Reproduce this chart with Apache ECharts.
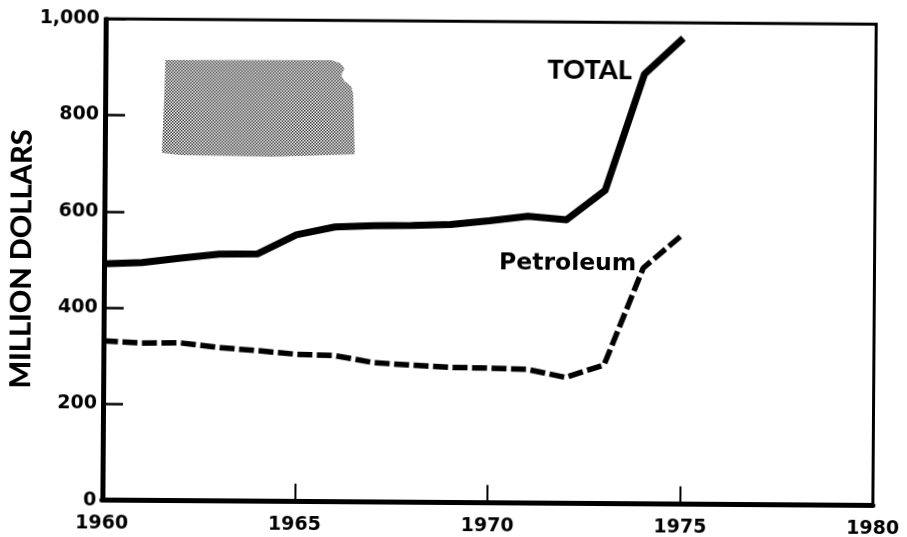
<!DOCTYPE html>
<html><head><meta charset="utf-8">
<style>html,body{margin:0;padding:0;background:#fff;overflow:hidden}
#c{width:907px;height:537px;transform:rotate(0.4deg);transform-origin:453.5px 268.5px}</style>
<script src="https://cdn.jsdelivr.net/npm/echarts@6/dist/echarts.min.js"></script>
</head><body><div id="c"></div>
<script>
const years=[1960,1961,1962,1963,1964,1965,1966,1967,1968,1969,1970,1971,1972,1973,1974,1975];
const totalValues=[491,494,504,513,514,554,571,574,575,578,586,596,589,651,893,968];
const petroleumValues=[331,327,328,319,313,306,304,290,285,281,280,278,262,288,490,559];
const kansasOutline=[[164,62],[330,61],[339,64],[343,69],[340,76],[343,82],[350,87],[352,95],[354,155],[300,157],[270,158],[180,157],[161,155],[163,100]];

const pat=document.createElement('canvas');pat.width=3;pat.height=3;
const p=pat.getContext('2d');p.fillStyle='#fff';p.fillRect(0,0,3,3);p.fillStyle='#333';p.fillRect(0,0,1.5,1.5);p.fillRect(1.5,1.5,1.5,1.5);

const tickFont='DejaVu Sans';
const font='Lato';
const chart=echarts.init(document.getElementById('c'),null,{renderer:'canvas'});
const pairs=a=>years.map((y,i)=>[y,a[i]]);
chart.setOption({
  animation:false,
  grid:{left:103.5,right:32.5,top:21.2,height:481.5,outerBoundsMode:'none',show:true,backgroundColor:'transparent',borderColor:'#000',borderWidth:3},
  xAxis:{type:'value',min:1960,max:1980,interval:5,splitLine:{show:false},
    axisLine:{show:true,onZero:false,lineStyle:{color:'#000',width:5}},
    axisTick:{show:true,inside:true,length:18,lineStyle:{color:'#000',width:2}},
    axisLabel:{color:'#000',fontFamily:tickFont,fontWeight:'bold',fontSize:19,margin:14,formatter:v=>String(v),showMinLabel:true,showMaxLabel:true}},
  yAxis:{type:'value',min:0,max:1000,interval:200,offset:-1.5,splitLine:{show:false},
    name:'MILLION DOLLARS',nameLocation:'middle',nameGap:69,nameRotate:90,nameMoveOverlap:false,
    nameTextStyle:{color:'#000',fontFamily:font,fontWeight:900,fontSize:29},
    axisLine:{show:true,lineStyle:{color:'#000',width:4}},
    axisTick:{show:true,inside:true,length:19,lineStyle:{color:'#000',width:2.5}},
    axisLabel:{color:'#000',fontFamily:tickFont,fontWeight:'bold',fontSize:19,margin:7,
      formatter:v=>v>=1000?'1,000':String(v)}},
  graphic:[
    {type:'polygon',z:1,shape:{points:kansasOutline},style:{fill:{image:pat,repeat:'repeat'}}},
    {type:'text',left:546,top:56,z:5,style:{text:'TOTAL',fill:'#000',font:'900 27px '+font}},
    {type:'text',left:499,top:251,z:5,style:{text:'Petroleum',fill:'#000',font:'bold 23.5px '+tickFont}}
  ],
  series:[
    {name:'TOTAL',type:'line',data:pairs(totalValues),showSymbol:false,smooth:false,
     lineStyle:{color:'#000',width:7,cap:'butt',join:'round'},z:3},
    {name:'Petroleum',type:'line',data:pairs(petroleumValues),showSymbol:false,smooth:false,
     lineStyle:{color:'#000',width:5.5,type:[15,4.5],cap:'butt'},z:3}
  ]
});
</script></body></html>
